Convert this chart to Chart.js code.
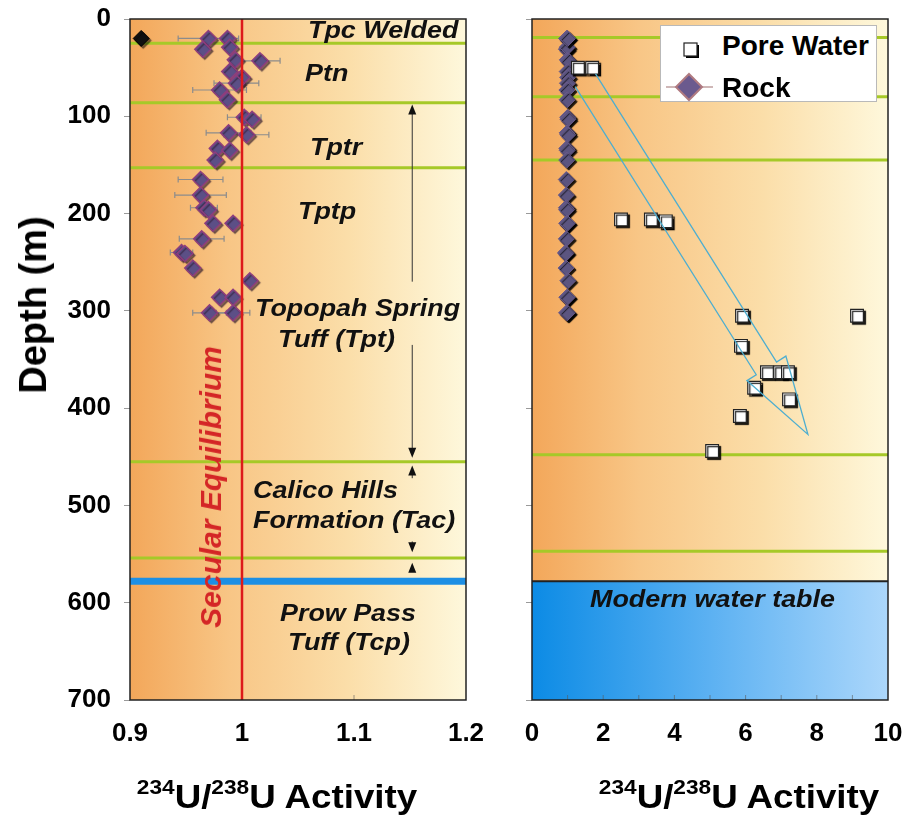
<!DOCTYPE html>
<html>
<head>
<meta charset="utf-8">
<script src="https://cdn.jsdelivr.net/npm/chart.js@4.4.0/dist/chart.umd.min.js"></script>
<style>
html,body{margin:0;padding:0;background:#fff;}
body{position:relative;width:913px;height:817px;overflow:hidden;font-family:'Liberation Sans',Arial,sans-serif;}
canvas{position:absolute;top:0;}
.lbl{position:absolute;font-weight:bold;font-style:italic;font-size:24px;line-height:1;color:#111;white-space:nowrap;transform-origin:0 0;transform:scaleX(1.12);}
.sec{position:absolute;left:211px;top:487px;font-weight:bold;font-style:italic;font-size:30px;line-height:1;color:#d42626;white-space:nowrap;transform:translate(-50%,-50%) rotate(-90deg);}
.xt{position:absolute;top:779px;font-weight:bold;font-size:34px;line-height:1;color:#000;white-space:nowrap;transform:translateX(-50%) scaleX(1.08);}
.xt .sup{font-size:21px;position:relative;top:-14px;}
.yt{position:absolute;left:33px;top:305px;font-weight:bold;font-size:38px;line-height:1;color:#000;white-space:nowrap;transform:translate(-50%,-50%) rotate(-90deg);}
#legend{position:absolute;left:660px;top:25px;width:217px;height:77px;background:#fff;border:1px solid #b9b9b9;box-sizing:border-box;}
#legend .li{position:absolute;left:61px;font-weight:bold;font-size:28px;line-height:1;color:#000;white-space:nowrap;}
#legend svg{position:absolute;left:0;top:0;}
</style>
</head>
<body>
<canvas id="left" width="500" height="817" style="left:0"></canvas>
<canvas id="right" width="413" height="817" style="left:500px"></canvas>

<div class="lbl" style="left:308px;top:18px">Tpc Welded</div>
<div class="lbl" style="left:305px;top:61px">Ptn</div>
<div class="lbl" style="left:310px;top:135px">Tptr</div>
<div class="lbl" style="left:298px;top:199px">Tptp</div>
<div class="lbl" style="left:255px;top:296px">Topopah Spring</div>
<div class="lbl" style="left:278px;top:327px">Tuff (Tpt)</div>
<div class="lbl" style="left:253px;top:478px">Calico Hills</div>
<div class="lbl" style="left:253px;top:508px">Formation (Tac)</div>
<div class="lbl" style="left:280px;top:601px">Prow Pass</div>
<div class="lbl" style="left:288px;top:630px">Tuff (Tcp)</div>
<div class="sec">Secular Equilibrium</div>
<div class="lbl" style="left:590px;top:587px">Modern water table</div>

<div class="yt">Depth (m)</div>
<div class="xt" style="left:277px"><span class="sup">234</span>U/<span class="sup">238</span>U Activity</div>
<div class="xt" style="left:739px"><span class="sup">234</span>U/<span class="sup">238</span>U Activity</div>

<div id="legend">
  <svg width="60" height="77" viewBox="0 0 60 77">
    <rect x="25" y="19" width="13" height="13" fill="#000"/>
    <rect x="23" y="17" width="13" height="13" fill="#fff" stroke="#222" stroke-width="1.2"/>
    <line x1="5" y1="61" x2="52" y2="61" stroke="#a07070" stroke-width="1.2"/>
    <polygon points="28,48 41,61 28,74 15,61" fill="#6b5a8e" stroke="#b07a80" stroke-width="2"/>
  </svg>
  <div class="li" style="top:6px">Pore Water</div>
  <div class="li" style="top:48px">Rock</div>
</div>

<script>
// ---------------- data ----------------
const rockActivity = [0.970,0.987,0.965,0.989,0.994,1.016,0.989,1.000,0.995,0.980,0.987,
                      1.002,1.009,0.988,1.004,0.978,0.989,0.976,0.963,0.963,0.966,0.970,
                      0.974,0.992,0.964,0.946,0.949,0.956,1.007,0.980,0.992,0.971,0.992];
const rockDepth    = [20,20,31,29,42,43,54,60,66,73,83,
                      101,103,117,119,133,135,145,165,181,194,196,
                      210,210,226,240,241,256,269,286,286,302,302];
const rockError    = [0.027,0,0,0,0,0.018,0,0,0.02,0.024,0,
                      0.015,0,0.02,0.02,0,0,0,0.02,0.023,0.012,0,
                      0,0,0.02,0.01,0,0,0,0,0,0.015,0.015];
const outlierActivity = [0.91];
const outlierDepth    = [20];
const poreActivity = [1.29,1.69,2.5,3.34,3.76,5.9,9.13,5.87,6.6,6.97,7.19,6.24,7.22,5.84,5.06];
const poreDepth    = [50,50,206,206,208,305,305,336,363,363,363,379,391,408,444];
const secularActivity = [1,1];
const secularDepth    = [0,700];
const leftXTicks  = [0.9,1.0,1.1,1.2];
const rightXTicks = [0,2,4,6,8,10];
const leftMinorTicks  = [1.1];
const rightMinorTicks = [1,2,3,4,5,6,7,8,9];
const depthTicks  = [0,100,200,300,400,500,600,700];
const leftLayerDepths  = [25,86,153,455,554];
const rightLayerDepths = [19,80,145,448,547];
const waterTableDepth  = 578;
const trendFrom = [1.5,63];
const trendTo   = [7.75,427];
const arrowActivity = 1.152;
const arrowFrom = [270,335,472,537,568];
const arrowTo   = [88,451,459,548,559];

const pts = (xs, ys) => xs.map((x,i)=>({x, y: ys[i]}));

// ---------------- plugins ----------------
const panelPlugin = {
  id: 'panel',
  beforeDraw(chart, args, o) {
    const {ctx, chartArea: a} = chart;
    const y = chart.scales.y;
    ctx.save();
    const g = ctx.createLinearGradient(a.left,0,a.right,0);
    g.addColorStop(0,'#f3a75a'); g.addColorStop(0.3,'#f8c686');
    g.addColorStop(0.65,'#fbdea9'); g.addColorStop(1,'#fef8dc');
    ctx.fillStyle = g;
    ctx.fillRect(a.left,a.top,a.width,a.height);
    if (o.water != null) {
      const yw = y.getPixelForValue(o.water);
      const b = ctx.createLinearGradient(a.left,0,a.right,0);
      b.addColorStop(0,'#0c8be5'); b.addColorStop(0.5,'#5cb1f2'); b.addColorStop(1,'#acd7fb');
      ctx.fillStyle = b;
      ctx.fillRect(a.left,yw,a.width,a.bottom-yw);
      ctx.strokeStyle = '#222'; ctx.lineWidth = 2;
      ctx.beginPath(); ctx.moveTo(a.left,yw); ctx.lineTo(a.right,yw); ctx.stroke();
    }
    ctx.restore();
  },
  beforeDatasetsDraw(chart, args, o) {
    const {ctx, chartArea: a} = chart;
    const xs = chart.scales.x, ys = chart.scales.y;
    ctx.save();
    ctx.strokeStyle = '#a6c928'; ctx.lineWidth = 3;
    (o.layers||[]).forEach(d => {
      const py = ys.getPixelForValue(d);
      ctx.beginPath(); ctx.moveTo(a.left,py); ctx.lineTo(a.right,py); ctx.stroke();
    });
    if (o.contact != null) {
      const py = ys.getPixelForValue(o.contact);
      ctx.strokeStyle = '#1d8fe4'; ctx.lineWidth = 7;
      ctx.beginPath(); ctx.moveTo(a.left,py); ctx.lineTo(a.right,py); ctx.stroke();
    }
    // inner minor tick marks along the bottom border
    ctx.strokeStyle = 'rgba(90,90,90,0.6)'; ctx.lineWidth = 1;
    (o.minor||[]).forEach(v => {
      const px = xs.getPixelForValue(v);
      ctx.beginPath(); ctx.moveTo(px,a.bottom); ctx.lineTo(px,a.bottom-5); ctx.stroke();
    });
    if (o.errors) {
      ctx.strokeStyle = '#8c8c8c'; ctx.lineWidth = 1.2;
      rockActivity.forEach((v,i) => {
        const e = rockError[i]; if (!e) return;
        const py = ys.getPixelForValue(rockDepth[i]);
        const x1 = xs.getPixelForValue(v-e), x2 = xs.getPixelForValue(v+e);
        ctx.beginPath();
        ctx.moveTo(x1,py); ctx.lineTo(x2,py);
        ctx.moveTo(x1,py-3); ctx.lineTo(x1,py+3);
        ctx.moveTo(x2,py-3); ctx.lineTo(x2,py+3);
        ctx.stroke();
      });
    }
    if (o.vArrows) {
      ctx.strokeStyle = '#333'; ctx.fillStyle = '#111'; ctx.lineWidth = 1;
      const px = xs.getPixelForValue(arrowActivity);
      arrowFrom.forEach((f,i) => {
        const y0 = ys.getPixelForValue(f), y1 = ys.getPixelForValue(arrowTo[i]);
        const dir = Math.sign(y1-y0);
        ctx.beginPath(); ctx.moveTo(px,y0); ctx.lineTo(px,y1 - dir*8); ctx.stroke();
        ctx.beginPath(); ctx.moveTo(px,y1); ctx.lineTo(px-4,y1-dir*10); ctx.lineTo(px+4,y1-dir*10); ctx.closePath(); ctx.fill();
      });
    }
    ctx.restore();
  },
  afterDatasetsDraw(chart, args, o) {
    if (!o.trend) return;
    const {ctx} = chart;
    const xs = chart.scales.x, ys = chart.scales.y;
    const p0 = {x: xs.getPixelForValue(trendFrom[0]), y: ys.getPixelForValue(trendFrom[1])};
    const p1 = {x: xs.getPixelForValue(trendTo[0]), y: ys.getPixelForValue(trendTo[1])};
    const dx = p1.x-p0.x, dy = p1.y-p0.y, L = Math.hypot(dx,dy);
    const ux = dx/L, uy = dy/L, nx = -uy, ny = ux;
    const sw = 12, hw = 23, hl = 78;
    const bx = p1.x-ux*hl, by = p1.y-uy*hl;
    ctx.save();
    ctx.strokeStyle = '#4eaed0'; ctx.lineWidth = 1.3;
    ctx.beginPath();
    ctx.moveTo(p0.x+nx*sw, p0.y+ny*sw);
    ctx.lineTo(bx+nx*sw, by+ny*sw);
    ctx.lineTo(bx+nx*hw, by+ny*hw);
    ctx.lineTo(p1.x, p1.y);
    ctx.lineTo(bx-nx*hw, by-ny*hw);
    ctx.lineTo(bx-nx*sw, by-ny*sw);
    ctx.lineTo(p0.x-nx*sw, p0.y-ny*sw);
    ctx.stroke();
    ctx.restore();
  },
  afterDraw(chart) {
    const {ctx, chartArea: a} = chart;
    ctx.save();
    ctx.strokeStyle = '#222'; ctx.lineWidth = 1.5;
    ctx.strokeRect(a.left,a.top,a.width,a.height);
    ctx.restore();
  }
};

const shadowPlugin = {
  id: 'shadow',
  beforeDatasetDraw(chart, args) {
    const ds = chart.data.datasets[args.index];
    if (!ds.shadowColor) return;
    const ctx = chart.ctx;
    ctx.save();
    ctx.shadowColor = ds.shadowColor;
    ctx.shadowOffsetX = 2; ctx.shadowOffsetY = 2; ctx.shadowBlur = 1;
  },
  afterDatasetDraw(chart, args) {
    const ds = chart.data.datasets[args.index];
    if (!ds.shadowColor) return;
    chart.ctx.restore();
  }
};

const tickFont = {family:"'Liberation Sans', Arial, sans-serif", weight:'bold', size:26};

function zeroPad(s) { s.paddingTop = 0; s.paddingBottom = 0; s.paddingLeft = 0; s.paddingRight = 0; }

function yScale(width, showLabels) {
  return {
    type:'linear', reverse:true, min:0, max:700,
    afterBuildTicks: s => { s.ticks = depthTicks.map(v => ({value:v})); },
    ticks:{display:showLabels, font:tickFont, color:'#000', padding:13},
    grid:{drawOnChartArea:false, drawTicks:true, tickLength:6, color:'#9a9a9a'},
    border:{display:false},
    afterFit: s => { s.width = width; zeroPad(s); }
  };
}
function xScale(min, max, ticks) {
  return {
    type:'linear', min, max,
    afterBuildTicks: s => { s.ticks = ticks.map(v => ({value:v})); },
    ticks:{font:tickFont, color:'#000', padding:18, callback: v => String(Math.round(v*10)/10)},
    grid:{display:false, drawTicks:false},
    border:{display:false},
    afterFit: s => { s.height = 117; zeroPad(s); }
  };
}

new Chart(document.getElementById('left'), {
  type:'scatter',
  data:{datasets:[
    {label:'Secular Equilibrium', data:pts(secularActivity, secularDepth), showLine:true,
     borderColor:'#dd1a1a', borderWidth:2.5, pointRadius:0},
    {label:'Rock (outlier)', data:pts(outlierActivity, outlierDepth), pointStyle:'rectRot', pointRadius:8,
     backgroundColor:'#111', borderColor:'#000', borderWidth:1, shadowColor:'rgba(0,0,0,0.5)'},
    {label:'Rock', data:pts(rockActivity, rockDepth), pointStyle:'rectRot', pointRadius:8,
     backgroundColor:'#5c4f86', borderColor:'#8e3d7e', borderWidth:1.5, shadowColor:'rgba(40,20,40,0.55)'}
  ]},
  options:{
    responsive:false, animation:false, events:[],
    layout:{padding:{top:19, right:34, left:0, bottom:0}},
    plugins:{legend:{display:false}, tooltip:{enabled:false},
      panel:{layers:leftLayerDepths, contact:waterTableDepth, errors:true, vArrows:true, minor:leftMinorTicks}},
    scales:{x:xScale(0.9,1.2,leftXTicks), y:yScale(130,true)}
  },
  plugins:[panelPlugin, shadowPlugin]
});

new Chart(document.getElementById('right'), {
  type:'scatter',
  data:{datasets:[
    {label:'Pore Water', data:pts(poreActivity, poreDepth), pointStyle:'rect', pointRadius:9,
     backgroundColor:'#ffffff', borderColor:'#222', borderWidth:1.2, shadowColor:'rgba(0,0,0,0.9)'},
    {label:'Rock', data:pts(rockActivity, rockDepth).concat(pts(outlierActivity.map(()=>1), outlierDepth)), pointStyle:'rectRot', pointRadius:8,
     backgroundColor:'#5c5580', borderColor:'#6a5a8a', borderWidth:1, shadowColor:'rgba(0,0,0,0.9)'}
  ]},
  options:{
    responsive:false, animation:false, events:[],
    layout:{padding:{top:19, right:25, left:0, bottom:0}},
    plugins:{legend:{display:false}, tooltip:{enabled:false},
      panel:{layers:rightLayerDepths, water:waterTableDepth, trend:true, minor:rightMinorTicks}},
    scales:{x:xScale(0,10,rightXTicks), y:yScale(32,false)}
  },
  plugins:[panelPlugin, shadowPlugin]
});
</script>
</body>
</html>
